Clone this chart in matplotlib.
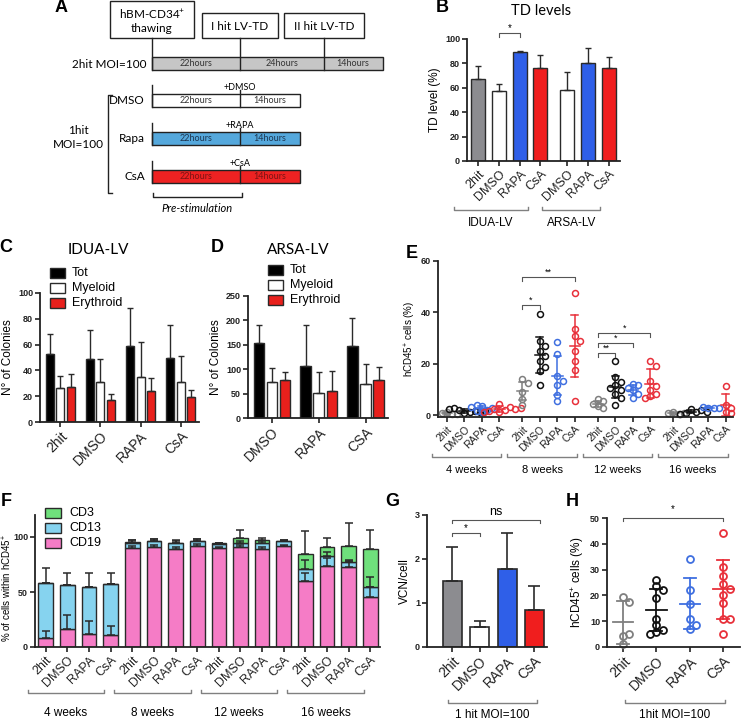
import numpy as np
import matplotlib
matplotlib.use("Agg")
import matplotlib.pyplot as plt
from matplotlib.patches import Rectangle
from matplotlib.transforms import blended_transform_factory

plt.rcParams['font.family'] = ['Liberation Sans', 'DejaVu Sans']
plt.rcParams['mathtext.fontset'] = 'custom'
plt.rcParams['mathtext.rm'] = 'Liberation Sans'
plt.rcParams['mathtext.it'] = 'Liberation Sans:italic'
plt.rcParams['mathtext.bf'] = 'Liberation Sans:bold'

# ---------------- data ----------------
treat = ['2hit', 'DMSO', 'RAPA', 'CsA']
weeks = ['4 weeks', '8 weeks', '12 weeks', '16 weeks']

# B: transduction levels (IDUA-LV then ARSA-LV)
td_labels = ['2hit', 'DMSO', 'RAPA', 'CsA', 'DMSO', 'RAPA', 'CsA']
td_mean = [67, 57, 89, 76, 58, 80, 76]
td_err = [11, 6, 1, 11, 15, 13, 9]

# C: IDUA-LV colonies
idua_groups = ['2hit', 'DMSO', 'RAPA', 'CsA']
idua_tot = [53, 49, 59, 50]
idua_tot_err = [15, 22, 29, 25]
idua_mye = [26, 31, 35, 31]
idua_mye_err = [10, 18, 27, 20]
idua_ery = [27, 17, 24, 19]
idua_ery_err = [10, 5, 10, 6]

# D: ARSA-LV colonies
arsa_groups = ['DMSO', 'RAPA', 'CSA']
arsa_tot = [153, 106, 148]
arsa_tot_err = [37, 84, 56]
arsa_mye = [74, 51, 70]
arsa_mye_err = [28, 43, 40]
arsa_ery = [77, 55, 77]
arsa_ery_err = [17, 42, 27]

# E: hCD45+ engraftment over time, one list per treatment
e_4w = [[1.2, 0.6, 0.9, 0.4],
        [0.8, 1.5, 2.2, 1.9, 2.8, 1.2, 2.5, 1.6],
        [1.5, 2.2, 3.8, 4.2, 2.8, 3.2, 1.8],
        [1.2, 2.0, 2.6, 3.2, 4.6, 1.8, 2.4, 1.4, 3.0]]
e_8w = [[14, 12.5, 9, 6.5, 4],
        [39.5, 29, 27, 25, 23, 21, 19, 17.4, 12],
        [28.5, 24, 15.5, 13.5, 12, 8, 5.5],
        [47.5, 33.5, 31, 29, 25, 21, 17.5, 5.8]]
e_12w = [[6.5, 5.5, 4.5, 3.5, 3],
         [21.3, 15, 13, 11.7, 10.8, 10, 8.5, 6.6, 4.2],
         [12.4, 12, 10.5, 10, 8.5, 6.6],
         [21, 19.4, 13.2, 11.6, 10, 8.5, 7.4, 6.6]]
e_16w = [[1.5, 0.5, 1, 0.8],
         [2.5, 1.5, 1, 2, 0.5, 1.2],
         [3, 3, 3.3, 2.8],
         [11.6, 4, 3, 1.5, 0.8]]
e_mean = [[0.8, 1.8, 2.8, 2.5], [9.5, 23.5, 15.5, 27], [4.5, 11, 10, 12.4], [1, 1.5, 3, 4]]
e_sd = [[0.4, 0.7, 1.0, 1.0], [3.5, 7, 7.7, 12], [1.3, 4.3, 2, 5.8], [0.4, 0.7, 0.2, 4.2]]

# F: lineage composition (layer heights, % of hCD45+)
f_cd19 = [8, 16.5, 12, 11, 90, 91, 89, 92, 90, 91, 89.5, 92, 60, 74, 73, 45.5]
f_cd19_err = [6.5, 12.5, 12, 8, 1.5, 1.5, 1.5, 1.5, 1, 1.5, 1.5, 1, 7, 7, 5, 9]
f_cd13 = [50, 40, 42.5, 46, 5, 5, 5.5, 4, 4, 4, 5, 4, 11, 9, 4.5, 9.5]
f_cd13_err = [14, 10.5, 12.5, 10, 2.5, 2, 2.5, 2, 1, 1.5, 2, 1, 8, 3, 1.5, 9]
f_cd3 = [0, 0, 0, 0, 0.4, 0.4, 0.4, 0.4, 0.5, 4, 2.5, 0.5, 13.5, 8, 14.5, 34]
f_cd3_err = [0, 0, 0, 0, 1.5, 1.5, 1.5, 1.5, 0.5, 7, 2, 0.5, 21, 8, 21, 17]

# G: vector copy number
g_mean = [1.5, 0.45, 1.77, 0.85]
g_err = [0.78, 0.15, 0.83, 0.54]

# H: hCD45+ cells, 1hit MOI=100
h_vals = [[19.5, 17.5, 4.2, 5, 1.2],
          [26, 23.5, 22, 19, 11, 8.5, 6.5, 6, 5],
          [34, 22, 16.5, 11, 7, 8.5],
          [44, 31, 27.5, 24.5, 22.5, 20, 17, 11, 11, 5]]
h_mean = [9.5, 14.2, 16.7, 22.3]
h_sd = [8.3, 8.1, 9.9, 11.5]

# ---------------- styles ----------------
c_gray = '#8c8c90'
c_blue = '#2f5fe8'
c_red = '#f01e1e'
td_colors = [c_gray, 'white', c_blue, c_red, 'white', c_blue, c_red]
dot_colors = ['#7f7f7f', '#111111', '#3f6fe0', '#e8303a']
f_green, f_cyan, f_pink = '#6fe07c', '#86d3ef', '#f57cc6'
edge = '#2a2a2a'

W, H = 741, 721
fig = plt.figure(figsize=(W / 100, H / 100), dpi=100)
ov = fig.add_axes([0, 0, 1, 1])
ov.set_xlim(0, W)
ov.set_ylim(H, 0)
ov.axis('off')


def px_ax(l, t, r, b):
    return fig.add_axes([l / W, 1 - b / H, (r - l) / W, (b - t) / H])


def style(ax, yticks, ylabel, ylab_fs=8, labelpad=3):
    for s in ('top', 'right'):
        ax.spines[s].set_visible(False)
    for s in ('left', 'bottom'):
        ax.spines[s].set_linewidth(1.3)
        ax.spines[s].set_color('#222')
    ax.set_yticks(yticks, [str(t) for t in yticks], fontsize=6.5, fontweight='bold')
    ax.tick_params(width=1.2, length=3.5, pad=1.5, colors='#222')
    ax.set_ylabel(ylabel, fontsize=ylab_fs, labelpad=labelpad)
    ax.patch.set_visible(False)


def xlabels(ax, pos, labels, fs):
    ax.set_xticks(pos, labels, rotation=45, ha='right', rotation_mode='anchor', fontsize=fs)


def under_bracket(ax, x0, x1, y_px, text, ty_px, fs=8.5):
    tr = blended_transform_factory(ax.transData, ov.transData)
    ax.plot([x0, x0, x1, x1], [y_px - 3, y_px, y_px, y_px - 3], transform=tr,
            color='#808080', lw=1, clip_on=False)
    ax.text((x0 + x1) / 2, ty_px, text, transform=tr, ha='center', va='center', fontsize=fs)


def sig(ax, x0, x1, y, h, text, fs=7, gap=0.0):
    ax.plot([x0, x0, x1, x1], [y - h, y, y, y - h], color='#555', lw=0.8, clip_on=False)
    ax.text((x0 + x1) / 2, y + gap, text, ha='center', va='bottom', fontsize=fs)


def swarm(vals, dy, dx):
    placed, offs = [], []
    cands = [0.0]
    for j in range(1, 8):
        cands += [j * dx, -j * dx]
    for v in vals:
        for c in cands:
            if all(abs(v - pv) >= dy or abs(c - po) >= dx * 0.99 for pv, po in placed):
                break
        placed.append((v, c))
        offs.append(c)
    return np.array(offs)


def mean_sd(ax, x, m, s, color, mw, cw, lw=1.2):
    ax.plot([x - mw / 2, x + mw / 2], [m, m], color=color, lw=lw)
    ax.plot([x, x], [m - s, m + s], color=color, lw=lw)
    for yy in (m - s, m + s):
        ax.plot([x - cw / 2, x + cw / 2], [yy, yy], color=color, lw=lw)


def legend_box(x, y, items, fs, sw=15, sh=10, tx=7):
    for i, (lab, col) in enumerate(items):
        yy = y + i * 15
        ov.add_patch(Rectangle((x, yy - sh / 2), sw, sh, fc=col, ec=edge, lw=1))
        ov.text(x + sw + tx, yy, lab, ha='left', va='center', fontsize=fs)


# ---------------- panel letters & titles ----------------
for lab, x, y in [('A', 61, 8), ('B', 442, 8), ('C', 6, 247), ('D', 217, 248),
                  ('E', 412, 254), ('F', 6, 502), ('G', 392, 502), ('H', 572, 502)]:
    ov.text(x, y, lab, ha='center', va='center', fontsize=13, fontweight='bold')

fa = ['Lato', 'DejaVu Sans']
ov.text(541, 11, 'TD levels', ha='center', va='center', fontsize=10.5, family=fa)
ov.text(98, 250, 'IDUA-LV', ha='center', va='center', fontsize=11, family=fa)
ov.text(298, 250, 'ARSA-LV', ha='center', va='center', fontsize=11, family=fa)

# ---------------- panel A (protocol scheme) ----------------
def box(x, y, w, h, fc='white'):
    ov.add_patch(Rectangle((x, y), w, h, fc=fc, ec='#222', lw=1))


def vl(x, y0, y1):
    ov.plot([x, x], [y0, y1], color='#222', lw=1)


box(110, 1, 84, 37)
ov.text(152, 14, 'hBM-CD34$^{+}$', ha='center', va='center', fontsize=8.5, family=fa)
ov.text(152, 29, 'thawing', ha='center', va='center', fontsize=8.5, family=fa)
box(202, 13, 76, 25)
ov.text(240, 26, 'I hit LV-TD', ha='center', va='center', fontsize=8.5, family=fa)
box(284, 13, 80, 25)
ov.text(324, 26, 'II hit LV-TD', ha='center', va='center', fontsize=8.5, family=fa)

box(152, 57, 231, 13, fc='#c6c6c6')
vl(152, 38, 70)
vl(240, 38, 70)
vl(324, 38, 70)
for x, t in [(196, '22hours'), (282, '24hours'), (353, '14hours')]:
    ov.text(x, 64, t, ha='center', va='center', fontsize=6.5, color='#333', family=fa)
ov.text(147, 64, '2hit MOI=100', ha='right', va='center', fontsize=8.5, family=fa)

rows = [('DMSO', '+DMSO', 'white', '#333', 94),
        ('Rapa', '+RAPA', '#55a8dc', '#1d3550', 132),
        ('CsA', '+CsA', '#ee2222', '#7a1414', 170)]
for name, add, fc, tc, y in rows:
    vl(152, y - 9, y + 13)
    box(152, y, 148, 13, fc=fc)
    vl(240, y - 4, y + 13)
    ov.text(240, y - 7, add, ha='center', va='center', fontsize=6.5, family=fa)
    ov.text(196, y + 6.5, '22hours', ha='center', va='center', fontsize=6.5, color=tc, family=fa)
    ov.text(270, y + 6.5, '14hours', ha='center', va='center', fontsize=6.5, color=tc, family=fa)
    ov.text(145, y + 6.5, name, ha='right', va='center', fontsize=8.5, family=fa)

ov.plot([112, 108, 108, 112], [95, 95, 193, 193], color='#222', lw=1)
ov.text(78, 130, '1hit', ha='center', va='center', fontsize=8.5, family=fa)
ov.text(78, 145, 'MOI=100', ha='center', va='center', fontsize=8.5, family=fa)
ov.plot([153, 153, 242, 242], [193, 197, 197, 193], color='#222', lw=1)
ov.text(197, 208, 'Pre-stimulation', ha='center', va='center', fontsize=8, style='italic', family=fa)

# ---------------- panel B ----------------
axB = px_ax(467, 39, 620, 161)
xb = np.array([0, 1, 2, 3, 4.3, 5.3, 6.3])
axB.bar(xb, td_mean, width=0.68, color=td_colors, edgecolor=edge, lw=1)
axB.errorbar(xb, td_mean, yerr=[np.zeros(len(xb)), td_err], fmt='none', ecolor=edge,
             elinewidth=1, capsize=2.5, capthick=1)
axB.set_xlim(-0.55, 6.85)
axB.set_ylim(0, 100)
style(axB, [0, 20, 40, 60, 80, 100], 'TD level (%)', ylab_fs=8.5)
xlabels(axB, xb, td_labels, 9)
sig(axB, 1, 2, 105, 3, '*', fs=7)
under_bracket(axB, -1.2, 2.4, 210, 'IDUA-LV', 223, fs=8.5)
under_bracket(axB, 3.1, 5.9, 210, 'ARSA-LV', 223, fs=8.5)

# ---------------- panel C ----------------
axC = px_ax(40, 293, 199, 422)
xc = np.arange(len(idua_groups))
bw, off = 0.2, 0.265
for vals, errs, col, d in [(idua_tot, idua_tot_err, 'black', -off),
                           (idua_mye, idua_mye_err, 'white', 0),
                           (idua_ery, idua_ery_err, '#e8201c', off)]:
    axC.bar(xc + d, vals, width=bw, color=col, edgecolor=edge, lw=1)
    axC.errorbar(xc + d, vals, yerr=[np.zeros(len(xc)), errs], fmt='none', ecolor=edge,
                 elinewidth=1, capsize=2, capthick=1)
axC.set_xlim(-0.51, 3.46)
axC.set_ylim(0, 100)
style(axC, [0, 20, 40, 60, 80, 100], 'N° of Colonies', ylab_fs=8.5)
xlabels(axC, xc, idua_groups, 10)
legend_box(50, 273, [('Tot', 'black'), ('Myeloid', 'white'), ('Erythroid', '#e8201c')], 9)

# ---------------- panel D ----------------
axD = px_ax(248, 296, 388, 418)
xd = np.arange(len(arsa_groups))
bw, off = 0.225, 0.28
for vals, errs, col, d in [(arsa_tot, arsa_tot_err, 'black', -off),
                           (arsa_mye, arsa_mye_err, 'white', 0),
                           (arsa_ery, arsa_ery_err, '#e8201c', off)]:
    axD.bar(xd + d, vals, width=bw, color=col, edgecolor=edge, lw=1)
    axD.errorbar(xd + d, vals, yerr=[np.zeros(len(xd)), errs], fmt='none', ecolor=edge,
                 elinewidth=1, capsize=2, capthick=1)
axD.set_xlim(-0.51, 2.48)
axD.set_ylim(0, 250)
style(axD, [0, 50, 100, 150, 200, 250], 'N° of Colonies', ylab_fs=8.5)
xlabels(axD, xd, arsa_groups, 10)
legend_box(268, 270, [('Tot', 'black'), ('Myeloid', 'white'), ('Erythroid', '#e8201c')], 9)

# ---------------- panel E ----------------
axE = px_ax(438, 261, 733, 417)
gs = 4.3
pos_e = []
for g, wk in enumerate([e_4w, e_8w, e_12w, e_16w]):
    for i, vals in enumerate(wk):
        x = g * gs + i
        pos_e.append(x)
        offs = swarm(vals, 2.2, 0.3)
        axE.plot(x + offs, vals, 'o', mfc='none', mec=dot_colors[i], ms=4.3, mew=1.1,
                 clip_on=False)
        mean_sd(axE, x, e_mean[g][i], e_sd[g][i], dot_colors[i], 0.6, 0.4, lw=1.1)
axE.set_xlim(-0.5, 16.3)
axE.set_ylim(-0.6, 60)
style(axE, [0, 20, 40, 60], 'hCD45$^{+}$ cells (%)', ylab_fs=7, labelpad=2)
xlabels(axE, pos_e, treat * 4, 7.5)
sig(axE, 4.3, 5.3, 42.9, 1.5, '*', fs=6.5)
sig(axE, 4.3, 7.3, 53.8, 1.5, '**', fs=6.5)
sig(axE, 8.6, 9.6, 24.3, 1.5, '**', fs=6.5)
sig(axE, 8.6, 10.6, 28.2, 1.5, '*', fs=6.5)
sig(axE, 8.6, 11.6, 32.1, 1.5, '*', fs=6.5)
for g, wk in enumerate(weeks):
    under_bracket(axE, g * gs - 0.85, g * gs + 3.1, 457, wk, 470, fs=8)

# ---------------- panel F ----------------
axF = px_ax(35, 515, 380, 647)
xf = np.arange(len(f_cd19))
cum13 = np.array(f_cd19) + np.array(f_cd13)
cum3 = cum13 + np.array(f_cd3)
zeros = np.zeros(len(xf))
axF.bar(xf, f_cd19, width=0.68, color=f_pink, edgecolor=edge, lw=1)
axF.bar(xf, f_cd13, bottom=f_cd19, width=0.68, color=f_cyan, edgecolor=edge, lw=1)
axF.bar(xf, f_cd3, bottom=cum13, width=0.68, color=f_green, edgecolor=edge, lw=1)
for tops, errs in [(f_cd19, f_cd19_err), (cum13, f_cd13_err), (cum3, f_cd3_err)]:
    axF.errorbar(xf, tops, yerr=[zeros, errs], fmt='none', ecolor=edge,
                 elinewidth=1.1, capsize=3, capthick=1.1, clip_on=False)
axF.set_xlim(-0.5, 15.45)
axF.set_ylim(0, 120)
style(axF, [0, 50, 100], '% of cells within hCD45$^{+}$', ylab_fs=7, labelpad=1)
axF.yaxis.set_label_coords(-0.06, 0.45)
xlabels(axF, xf, treat * 4, 9)
for g, wk in enumerate(weeks):
    under_bracket(axF, g * 4 - 0.83, g * 4 + 2.7, 693, wk, 713, fs=8.5)
legend_box(45, 513, [('CD3', f_green), ('CD13', f_cyan), ('CD19', f_pink)], 9, sw=16, sh=10, tx=8)

# ---------------- panel G ----------------
axG = px_ax(427, 515, 547, 647)
xg = np.arange(len(treat))
axG.bar(xg, g_mean, width=0.7, color=[c_gray, 'white', c_blue, c_red], edgecolor=edge, lw=1.2)
axG.errorbar(xg, g_mean, yerr=[np.zeros(len(xg)), g_err], fmt='none', ecolor=edge,
             elinewidth=1.2, capsize=4, capthick=1.2)
axG.set_xlim(-0.93, 3.46)
axG.set_ylim(0, 3)
style(axG, [0, 1, 2, 3], 'VCN/cell', ylab_fs=8.5)
xlabels(axG, xg, treat, 10)
sig(axG, 0, 1, 2.59, 0.07, '*', fs=7)
sig(axG, 0, 3.2, 2.89, 0.07, 'ns', fs=9, gap=0.04)
under_bracket(axG, -0.15, 3.1, 703, '1 hit MOI=100', 715, fs=8.5)

# ---------------- panel H ----------------
axH = px_ax(607, 518, 740, 647)
xh = np.arange(len(treat))
for i, vals in enumerate(h_vals):
    offs = swarm(vals, 2.3, 0.19)
    axH.plot(xh[i] + offs, vals, 'o', mfc='none', mec=dot_colors[i], ms=5, mew=1.3, clip_on=False)
    mean_sd(axH, xh[i], h_mean[i], h_sd[i], dot_colors[i], 0.62, 0.36, lw=1.3)
axH.set_xlim(-0.48, 3.5)
axH.set_ylim(0, 50)
style(axH, [0, 10, 20, 30, 40, 50], 'hCD45$^{+}$ cells (%)', ylab_fs=8.5)
xlabels(axH, xh, treat, 10)
sig(axH, 0, 3, 50, 1.2, '*', fs=7, gap=1.5)
under_bracket(axH, 0.05, 3.05, 703, '1hit MOI=100', 715, fs=8.5)

fig.savefig('out.png', dpi=100)
